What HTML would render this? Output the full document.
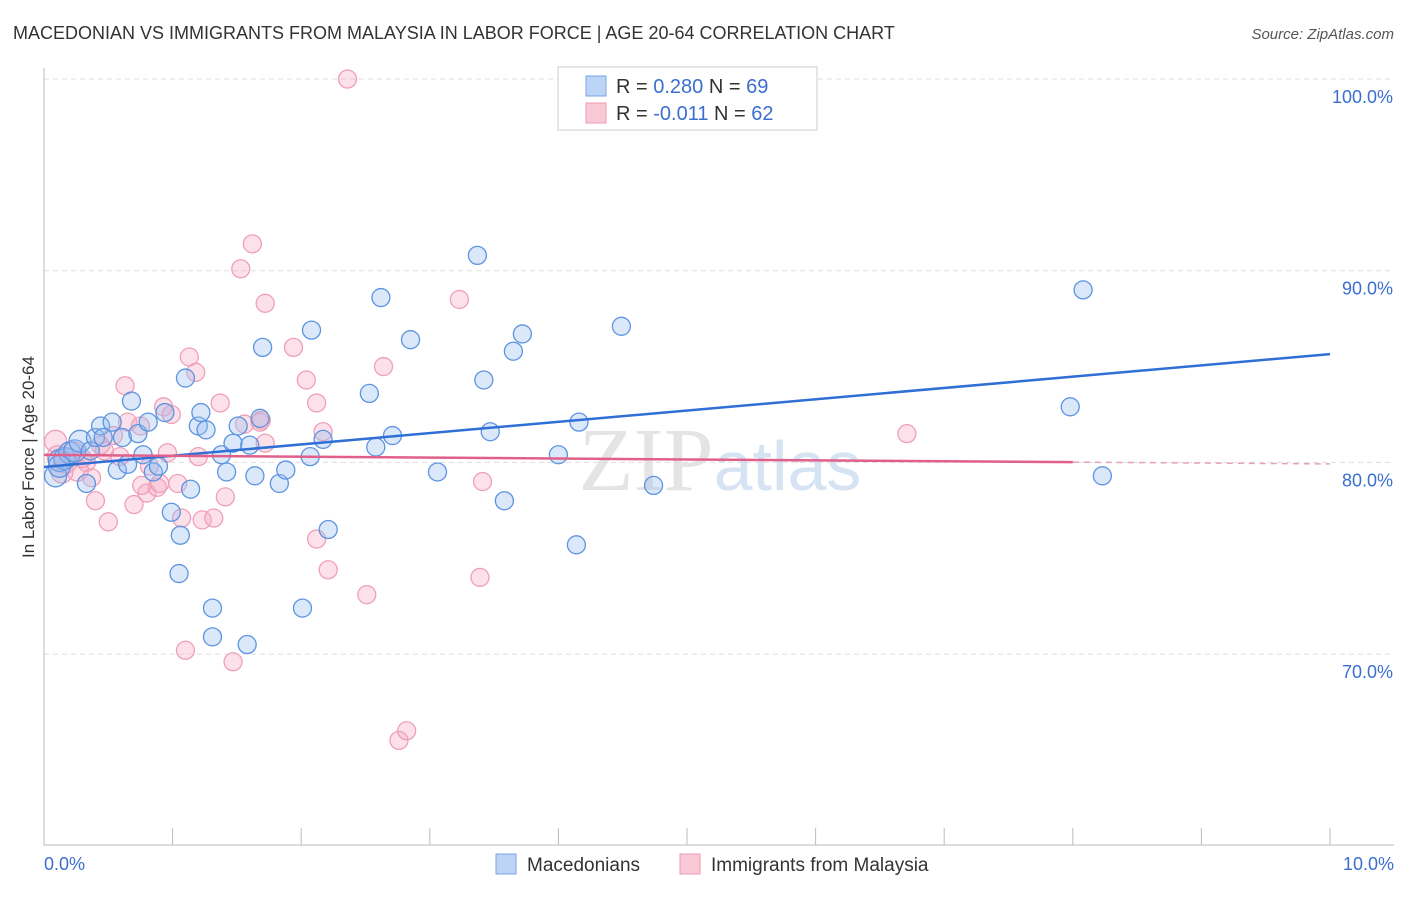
<!DOCTYPE html>
<html><head><meta charset="utf-8"><style>
body{margin:0;background:#fff;font-family:"Liberation Sans",sans-serif;}
</style></head><body>
<svg id="chart" width="1406" height="892" xmlns="http://www.w3.org/2000/svg" font-family="Liberation Sans, sans-serif">
<text x="13" y="39" font-size="18" fill="#333">MACEDONIAN VS IMMIGRANTS FROM MALAYSIA IN LABOR FORCE | AGE 20-64 CORRELATION CHART</text>
<text x="1394" y="39" font-size="15" fill="#555" font-style="italic" text-anchor="end">Source: ZipAtlas.com</text>
<text x="720" y="490" font-size="90" fill="#e4e4e4" text-anchor="middle" font-family="Liberation Serif, serif">ZIP<tspan fill="#d5e3f3" font-family="Liberation Sans, sans-serif" font-size="70">atlas</tspan></text>
<g id="grid"></g><g id="axes"></g><g id="pts"></g><g id="lines"></g>
<text transform="translate(34,457) rotate(-90)" font-size="17" fill="#333" text-anchor="middle">In Labor Force | Age 20-64</text>
<g>
<rect x="558" y="67" width="259" height="63" fill="#fff" stroke="#ccc"/>
<rect x="586" y="76" width="20" height="20" fill="#bcd4f5" stroke="#7aa6e6"/>
<text x="616" y="93" font-size="20" fill="#333">R = <tspan fill="#3a6fd0">0.280</tspan>   N = <tspan fill="#3a6fd0">69</tspan></text>
<rect x="586" y="103" width="20" height="20" fill="#f9c9d7" stroke="#ee9ab3"/>
<text x="616" y="120" font-size="20" fill="#333">R = <tspan fill="#3a6fd0">-0.011</tspan>   N = <tspan fill="#3a6fd0">62</tspan></text>
</g>
<g>
<rect x="496" y="854" width="20" height="20" fill="#bcd4f5" stroke="#7aa6e6"/>
<text x="527" y="871" font-size="19" fill="#333">Macedonians</text>
<rect x="680" y="854" width="20" height="20" fill="#f9c9d7" stroke="#ee9ab3"/>
<text x="711" y="871" font-size="19" fill="#333">Immigrants from Malaysia</text>
</g>
</svg>
<script>
const xTicks=[0,1,2,3,4,5,6,7,8,9,10];
const yTicks=[70,80,90,100];
const blueX=[0.09,0.12,0.16,0.2,0.24,0.28,0.33,0.36,0.4,0.44,0.46,0.53,0.57,0.61,0.65,0.68,0.73,0.77,0.81,0.85,0.89,0.94,0.99,1.05,1.06,1.1,1.14,1.2,1.22,1.26,1.31,1.31,1.38,1.42,1.47,1.51,1.58,1.6,1.64,1.68,1.7,1.83,1.88,2.01,2.07,2.08,2.17,2.21,2.53,2.58,2.62,2.71,2.85,3.06,3.37,3.42,3.47,3.58,3.65,3.72,4.0,4.14,4.16,4.49,4.74,7.98,8.08,8.23,0.12];
const blueY=[79.3,80.1,80.2,80.5,80.6,81.1,78.9,80.6,81.3,81.9,81.3,82.1,79.6,81.3,79.9,83.2,81.5,80.4,82.1,79.5,79.8,82.6,77.4,74.2,76.2,84.4,78.6,81.9,82.6,81.7,72.4,70.9,80.4,79.5,81.0,81.9,70.5,80.9,79.3,82.3,86.0,78.9,79.6,72.4,80.3,86.9,81.2,76.5,83.6,80.8,88.6,81.4,86.4,79.5,90.8,84.3,81.6,78.0,85.8,86.7,80.4,75.7,82.1,87.1,78.8,82.9,89.0,79.3,79.8];
const pinkX=[0.09,0.11,0.14,0.17,0.23,0.26,0.33,0.37,0.4,0.47,0.5,0.54,0.59,0.63,0.65,0.7,0.75,0.8,0.82,0.88,0.9,0.93,0.96,0.99,1.04,1.07,1.1,1.13,1.18,1.2,1.23,1.32,1.37,1.41,1.47,1.53,1.56,1.62,1.69,1.72,1.72,1.94,2.04,2.12,2.12,2.17,2.21,2.36,2.51,2.64,2.76,2.82,3.23,3.39,3.41,6.71,0.44,0.3,0.76,1.68];
const pinkY=[81.1,80.3,79.5,80.0,80.5,79.6,80.0,79.2,78.0,80.6,76.9,81.4,80.3,84.0,82.1,77.8,81.9,78.4,79.8,78.7,78.9,82.9,80.5,82.5,78.9,77.1,70.2,85.5,84.7,80.3,77.0,77.1,83.1,78.2,69.6,90.1,82.0,91.4,82.2,88.3,81.0,86.0,84.3,76.0,83.1,81.6,74.4,100.0,73.1,85.0,65.5,66.0,88.5,74.0,79.0,81.5,80.9,80.2,78.8,82.1];
const blueLine=[79.76,85.65];
const pinkLine=[80.39,79.92];
const NS="http://www.w3.org/2000/svg";
const xs=v=>44+v*128.6, ys=v=>79+(100-v)*19.17;
function mk(t,a,p){const e=document.createElementNS(NS,t);for(const k in a)e.setAttribute(k,a[k]);p.appendChild(e);return e;}
const grid=document.getElementById('grid'),axes=document.getElementById('axes'),pts=document.getElementById('pts'),lines=document.getElementById('lines');
yTicks.forEach(v=>{
 const l=mk('line',{x1:44,x2:1394,y1:ys(v),y2:ys(v),stroke:'#ddd','stroke-dasharray':'5,4'},grid);
 
 
 const t=mk('text',{x:1393,y:ys(v)+24,'font-size':18,fill:'#3a6fd0','text-anchor':'end'},grid);
 t.textContent=v.toFixed(1)+'%';
 
 
});
mk('line',{x1:44,x2:44,y1:68,y2:845,stroke:'#bbb'},axes);
mk('line',{x1:44,x2:1394,y1:845,y2:845,stroke:'#bbb'},axes);
xTicks.forEach(v=>{const l=mk('line',{x1:xs(v),x2:xs(v),y1:828,y2:845,stroke:'#bbb'},axes);
 
 });
[[0,'0.0%','start',44],[10,'10.0%','end',1394]].forEach(d=>{const t=mk('text',{x:d[3],y:870,'font-size':18,fill:'#3a6fd0','text-anchor':d[2]},axes);t.textContent=d[1];
 
 });
function dots(X,Y,fill,stroke,name){X.forEach((x,i)=>{const c=mk('circle',{cx:xs(x),cy:ys(Y[i]),r:x<0.3?11:9,fill:fill,stroke:stroke,'stroke-width':1.3},pts);
 
 });}
dots(pinkX,pinkY,'rgba(246,170,195,0.35)','#efa0b8','malaysia-point');
dots(blueX,blueY,'rgba(150,190,240,0.35)','#5d94e0','macedonian-point');
const bl=mk('line',{x1:xs(0),y1:ys(blueLine[0]),x2:xs(10),y2:ys(blueLine[1]),stroke:'#2f6fd6','stroke-width':2.5},lines);


const pm=pinkLine[0]+(pinkLine[1]-pinkLine[0])*0.8;
const pl=mk('line',{x1:xs(0),y1:ys(pinkLine[0]),x2:xs(8),y2:ys(pm),stroke:'#e0608a','stroke-width':2.5},lines);


const pd=mk('line',{x1:xs(8),y1:ys(pm),x2:xs(10),y2:ys(pinkLine[1]),stroke:'#eaa0b8','stroke-width':1.5,'stroke-dasharray':'6,5'},lines);


</script>
</body></html>
